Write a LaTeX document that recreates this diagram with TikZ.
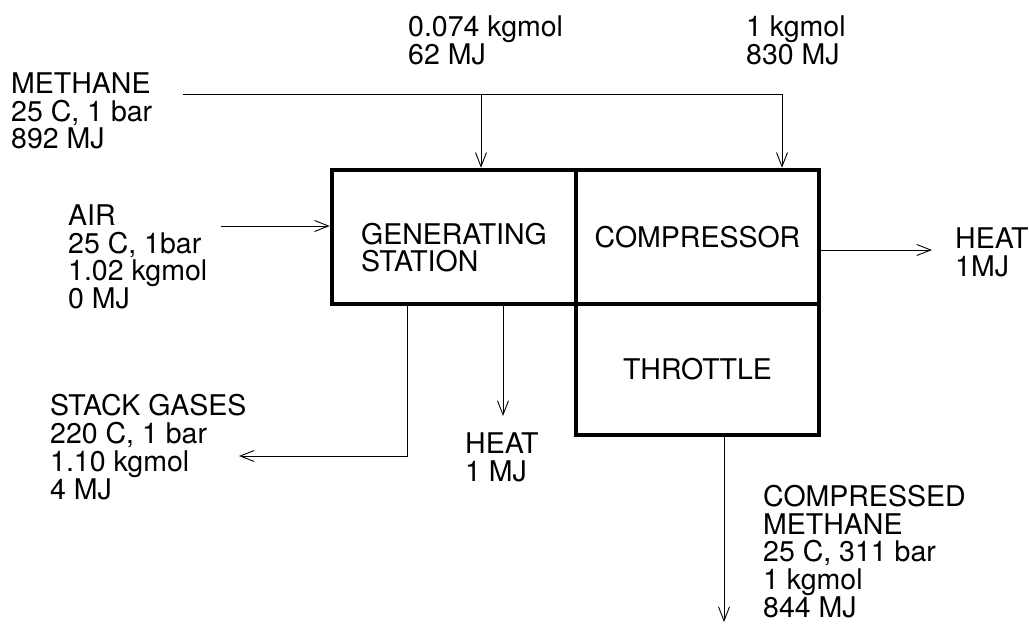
\documentclass[tikz,border=0pt]{standalone}
\usepackage{fontspec}
\setmainfont{TeX Gyre Heros}
\usetikzlibrary{arrows.meta}

\begin{document}
\begin{tikzpicture}[x=1pt, y=-1pt,
  font=\fontsize{28.5}{27.7}\selectfont,
  unit/.style={draw, line width=4.5pt, align=left, inner sep=0pt},
  stream/.style={align=left, anchor=north west, inner sep=0pt},
  flow/.style={-{Straight Barb[length=14pt, width=11pt]}, line width=0.9pt}]

\useasboundingbox (0,0) rectangle (1029,625);

% Process units
\node[unit, minimum width=244pt, minimum height=134pt, text height=70pt] (gen) at (454,237) {GENERATING\\STATION};
\node[unit, minimum width=243pt, minimum height=134pt] (comp) at (697.5,237) {COMPRESSOR};
\node[unit, minimum width=243pt, minimum height=131pt] (thr) at (697.5,369.5) {THROTTLE};

% Stream labels
\node[stream] (lmeth) at (11,72.5) {METHANE\\25 C, 1 bar\\892 MJ};
\node[stream] (lfuel) at (408,15.5) {0.074 kgmol\\62 MJ};
\node[stream] (lfeed) at (746,15.5) {1 kgmol\\830 MJ};
\node[stream] (lair) at (68,204.5) {AIR\\25 C, 1bar\\1.02 kgmol\\0 MJ};
\node[stream] (lheatc) at (955,227.5) {HEAT\\1MJ};
\node[stream] (lstack) at (50,394.5) {STACK GASES\\220 C, 1 bar\\1.10 kgmol\\4 MJ};
\node[stream] (lheatg) at (465,432.5) {HEAT\\1 MJ};
\node[stream] (lprod) at (763,485) {COMPRESSED\\METHANE\\25 C, 311 bar\\1 kgmol\\844 MJ};

% Free ends
\coordinate (methin) at (183,94);
\coordinate (split) at (481,94);
\coordinate (airin) at (221,226);
\coordinate (heatc) at (932,250);
\coordinate (stack) at (239,456);
\coordinate (heatg) at (503,416);
\coordinate (prod) at (724,622);

% Connecting arrows
\draw[flow] (methin) -| ([xshift=84.5pt]comp.north);
\draw[flow] (split) -- (split |- gen.north);
\draw[flow] (airin) -- (airin -| gen.west);
\draw[flow] (heatc -| comp.east) -- (heatc);
\draw[flow] ([xshift=-47pt]gen.south) |- (stack);
\draw[flow] (heatg |- gen.south) -- (heatg);
\draw[flow] (prod |- thr.south) -- (prod);

\end{tikzpicture}
\end{document}
